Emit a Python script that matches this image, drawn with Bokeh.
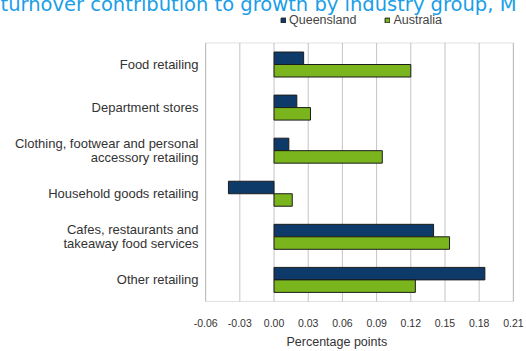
from bokeh.plotting import figure
from bokeh.models import (Range1d, FixedTicker, Legend, LegendItem, Title,
                          NumeralTickFormatter, ColumnDataSource, BoxAnnotation)
from bokeh.embed import file_html
from bokeh.resources import INLINE

title_text = "turnover contribution to growth by industry group, M"
categories = [
    "Food retailing",
    "Department stores",
    "Clothing, footwear and personal\naccessory retailing",
    "Household goods retailing",
    "Cafes, restaurants and\ntakeaway food services",
    "Other retailing",
]
queensland = [0.026, 0.020, 0.013, -0.040, 0.140, 0.185]
australia = [0.120, 0.032, 0.095, 0.016, 0.154, 0.124]
series_names = ["Queensland", "Australia"]
x_ticks = [-0.06, -0.03, 0.0, 0.03, 0.06, 0.09, 0.12, 0.15, 0.18, 0.21]
x_label = "Percentage points"

Q_COLOR = "#0e3a6a"
A_COLOR = "#7ab51d"
GRID = "#c4c4c4"
BOX = "#9a9a9a"
n = len(categories)
ypos = [n - 1 - i for i in range(n)]
bar_h = 0.29
x_pad = 0.001      # one pixel of breathing room so the box edges are not clipped
y_pad_bottom = 0.025
y_pad_top = 0.754  # room above the plot box for the legend

src = ColumnDataSource(dict(
    yq=[y + bar_h / 2 for y in ypos],
    ya=[y - bar_h / 2 for y in ypos],
    q=queensland,
    a=australia,
))
grid_src = ColumnDataSource(dict(
    x=x_ticks,
    y0=[-0.5] * len(x_ticks),
    y1=[n - 0.5] * len(x_ticks),
))

p = figure(width=526, height=351, output_backend="svg", toolbar_location=None,
           x_range=Range1d(x_ticks[0] - x_pad, x_ticks[-1] + x_pad),
           y_range=Range1d(-0.5 - y_pad_bottom, n - 0.5 + y_pad_top),
           min_border_left=204, min_border_right=12, min_border_top=0,
           min_border_bottom=49, title=title_text)
p.background_fill_color = "white"
p.border_fill_color = "white"
p.outline_line_color = None

# title (runs off the top-left of the picture, as in the reference)
p.title.text_font = "DejaVu Sans"
p.title.text_font_size = "19.5px"
p.title.text_font_style = "normal"
p.title.text_color = "#1a9ee6"
p.title.align = "left"
p.title.offset = -204
p.title.standoff = -15
p.title.vertical_align = "top"

# grid lines and plot box
p.segment(x0="x", x1="x", y0="y0", y1="y1", source=grid_src,
          line_color=GRID, line_width=1)
p.add_layout(BoxAnnotation(left=x_ticks[0], right=x_ticks[-1], bottom=-0.5,
                           top=n - 0.5, fill_alpha=0, line_color=BOX,
                           line_width=1))

rq = p.hbar(y="yq", left=0, right="q", height=bar_h, source=src,
            fill_color=Q_COLOR, line_color="#1c1c1c", line_width=1)
ra = p.hbar(y="ya", left=0, right="a", height=bar_h, source=src,
            fill_color=A_COLOR, line_color="#1c1c1c", line_width=1)

# x axis
xa = p.xaxis[0]
xa.ticker = FixedTicker(ticks=x_ticks)
xa.formatter = NumeralTickFormatter(format="0.00")
xa.major_tick_line_color = None
xa.minor_tick_line_color = None
xa.axis_line_color = None
xa.major_label_standoff = 10
xa.major_label_text_font = "Liberation Sans"
xa.major_label_text_font_size = "10.5px"
xa.major_label_text_color = "#333333"

# x axis title, placed left of centre like the reference
xtitle = Title(text=x_label, align="left", offset=82, standoff=6,
               vertical_align="bottom", text_font="Liberation Sans",
               text_font_size="12.5px", text_font_style="normal",
               text_color="#333333")
p.add_layout(xtitle, "below")

# y axis
ya = p.yaxis[0]
ya.ticker = FixedTicker(ticks=ypos)
ya.major_label_overrides = {y: c for y, c in zip(ypos, categories)}
ya.major_tick_line_color = None
ya.minor_tick_line_color = None
ya.major_tick_out = 0
ya.major_tick_in = 0
ya.axis_line_color = None
ya.major_label_standoff = 6
ya.major_label_text_font = "Liberation Sans"
ya.major_label_text_font_size = "13px"
ya.major_label_text_line_height = 0.95
ya.major_label_text_color = "#333333"
ya.major_label_text_align = "right"

p.xgrid.grid_line_color = None
p.ygrid.grid_line_color = None

legend = Legend(items=[LegendItem(label=series_names[0], renderers=[rq]),
                       LegendItem(label=series_names[1], renderers=[ra])],
                location=(76, 275), orientation="horizontal",
                padding=0, margin=0, spacing=28, label_standoff=3,
                glyph_width=6, glyph_height=6, label_height=10,
                label_text_font="Liberation Sans", label_text_font_size="12.5px",
                label_text_color="#444444", border_line_color=None,
                background_fill_alpha=0)
p.add_layout(legend)

open("out.html", "w").write(file_html(p, INLINE))
